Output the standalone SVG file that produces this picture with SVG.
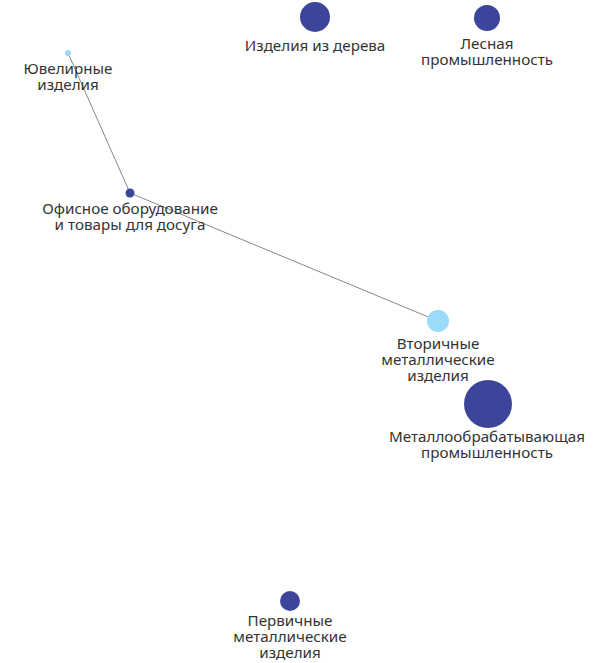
<svg xmlns="http://www.w3.org/2000/svg" width="610" height="663" viewBox="0 0 610 663">
<style>
.lbl{font-family:"Noto Sans","Liberation Sans",sans-serif;font-size:15.2px;fill:#333;text-anchor:middle}
.dk{fill:#3d459b}
.lt{fill:#9bdaf8}
.edge{stroke:#888;stroke-width:1;fill:none}
</style>
<rect width="610" height="663" fill="#fff"/>
<g id="edges">
<line class="edge" x1="68" y1="53" x2="130" y2="193"/>
<line class="edge" x1="130" y1="193" x2="438" y2="321"/>
</g>
<g id="n-wood"><circle class="dk" cx="315" cy="17" r="15"/><text class="lbl" x="315" y="51">Изделия из дерева</text></g>
<g id="n-forest"><circle class="dk" cx="487" cy="18" r="13"/><text class="lbl" x="487" y="49">Лесная</text><text class="lbl" x="487" y="65">промышленность</text></g>
<g id="n-jewel"><circle class="lt" cx="68" cy="53" r="3"/><text class="lbl" x="68" y="74">Ювелирные</text><text class="lbl" x="68" y="90">изделия</text></g>
<g id="n-office"><circle class="dk" cx="130" cy="193" r="4.5"/><text class="lbl" x="130" y="214">Офисное оборудование</text><text class="lbl" x="130" y="230">и товары для досуга</text></g>
<g id="n-secondary"><circle class="lt" cx="438" cy="321" r="11"/><text class="lbl" x="438" y="349">Вторичные</text><text class="lbl" x="438" y="365">металлические</text><text class="lbl" x="438" y="381">изделия</text></g>
<g id="n-metalwork"><circle class="dk" cx="488" cy="404" r="24"/><text class="lbl" x="487" y="442">Металлообрабатывающая</text><text class="lbl" x="487" y="458">промышленность</text></g>
<g id="n-primary"><circle class="dk" cx="290" cy="601" r="10"/><text class="lbl" x="290" y="626">Первичные</text><text class="lbl" x="290" y="642">металлические</text><text class="lbl" x="290" y="658">изделия</text></g>
</svg>
